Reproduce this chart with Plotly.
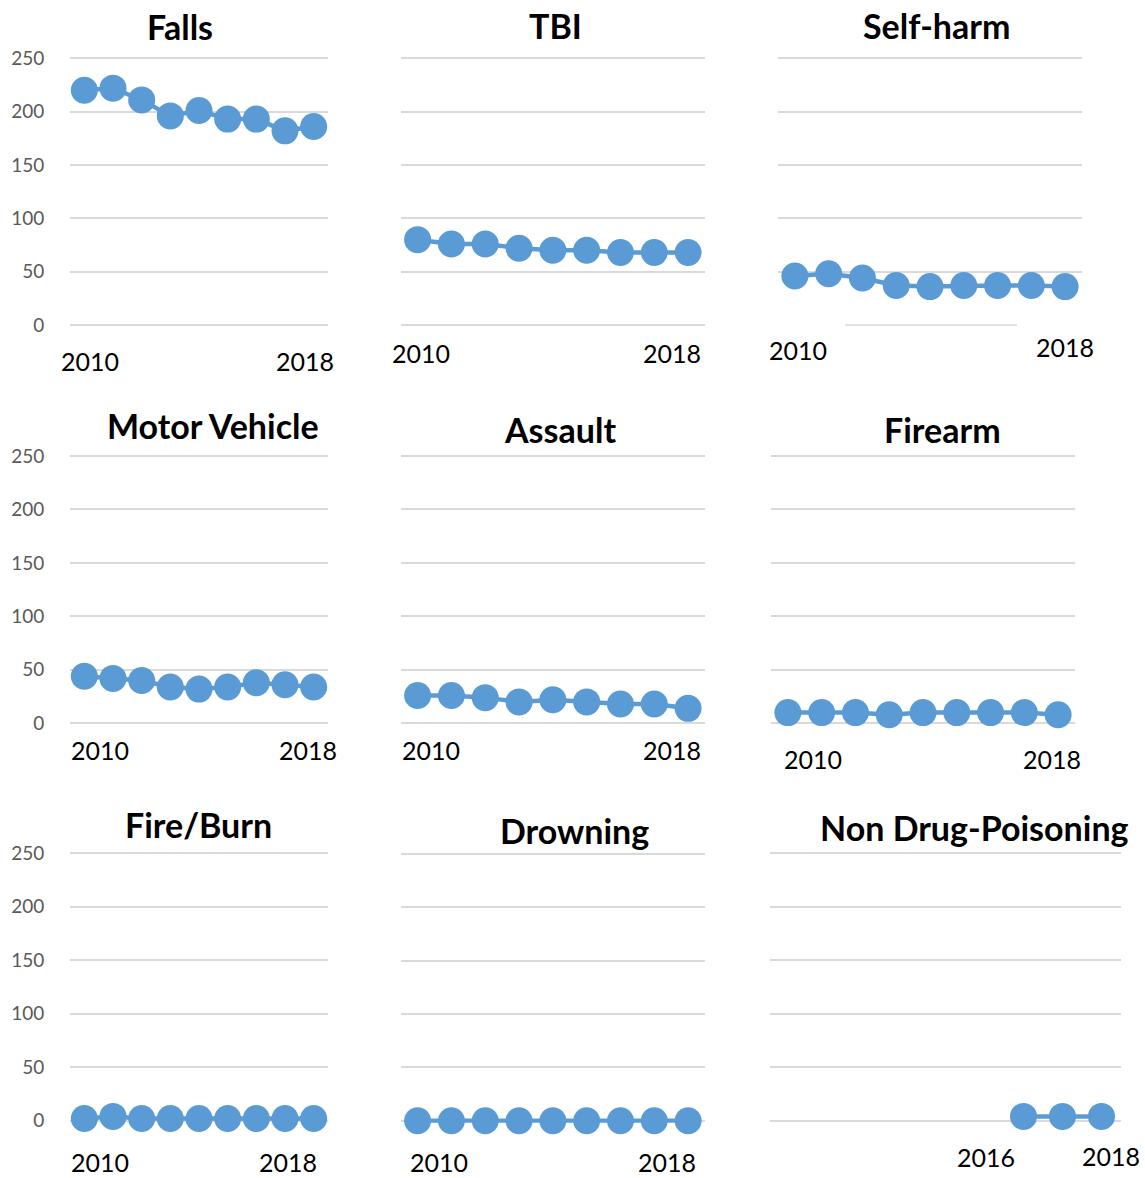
import plotly.graph_objects as go

W, H = 1145, 1178

years = [2010, 2011, 2012, 2013, 2014, 2015, 2016, 2017, 2018]

falls = [220, 222, 211, 196, 201, 193, 193, 182, 186]
tbi = [80, 76, 76, 72, 70, 70, 68, 68, 68]
self_harm = [46, 48, 44, 37, 36, 37, 37, 37, 36]
motor_vehicle = [44, 42, 40, 34, 32, 34, 38, 36, 34]
assault = [26, 26, 24, 20, 22, 20, 18, 18, 14]
firearm = [10, 10, 10, 8, 10, 10, 10, 10, 8]
fire_burn = [2, 4, 2, 2, 2, 2, 2, 2, 2]
drowning = [0, 0, 0, 0, 0, 0, 0, 0, 0]
non_drug_poisoning = [None, None, None, None, None, None, 4, 4, 4]

titles = ["Falls", "TBI", "Self-harm", "Motor Vehicle", "Assault", "Firearm",
          "Fire/Burn", "Drowning", "Non Drug-Poisoning"]
series = [falls, tbi, self_harm, motor_vehicle, assault, firearm,
          fire_burn, drowning, non_drug_poisoning]
year_labels = [["2010", "2018"]] * 8 + [["2016", "2018"]]
y_ticks = [0, 50, 100, 150, 200, 250]

# ---- layout geometry (pixels) ----
# plot area: x_left, x_right, y of 250 gridline, y of 0 gridline
panels_px = [
    (70, 328, 58.3, 325.0),
    (400.7, 705, 58.3, 325.0),
    (778, 1082, 58.3, 325.0),
    (70, 328, 456.0, 723.3),
    (400.7, 705, 456.0, 723.3),
    (771, 1075, 456.0, 723.3),
    (70, 328, 853.3, 1120.7),
    (400.7, 705, 854.0, 1120.7),
    (770, 1121, 853.3, 1120.7),
]
title_pos = [(180, 28), (555.5, 27.5), (936.7, 27.5),
             (212.8, 427.5), (560.3, 430.8), (942.7, 430.8),
             (198.8, 826.2), (574.5, 831.7), (974.7, 829.2)]
label_pos = [
    [(89.7, 361.7), (305, 361.7)],
    [(420.5, 354.2), (672, 354.2)],
    [(798, 350.5), (1064.5, 348.3)],
    [(100.3, 751.3), (308, 751.3)],
    [(431.3, 751.3), (672, 751.3)],
    [(813, 759.5), (1052, 759.5)],
    [(100.3, 1165), (288, 1165)],
    [(439.5, 1162.8), (667, 1162.8)],
    [(985.8, 1158.3), (1111, 1156.7)],
]

BLUE = "#5B9BD5"
GRID = "#D9D9D9"
FONT = "Lato"
PAD = 2  # data units of range padding

def px(x):
    return x / W

def py(y):
    return 1 - y / H

fig = go.Figure()
layout = dict(
    template="none",
    width=W, height=H, margin=dict(l=0, r=0, t=0, b=0, pad=0, autoexpand=False),
    paper_bgcolor="white", plot_bgcolor="white", showlegend=False,
    font=dict(family=FONT),
)
annotations = []
shapes = []

for i, (title, vals) in enumerate(zip(titles, series)):
    n = i + 1
    xa = "x" if n == 1 else f"x{n}"
    ya = "y" if n == 1 else f"y{n}"
    xl, xr, y250, y0 = panels_px[i]
    ppu = (y0 - y250) / 250.0
    top = y250 - PAD * ppu
    bot = y0 + PAD * ppu
    fig.add_trace(go.Scatter(
        x=years, y=vals, xaxis=xa, yaxis=ya, mode="lines+markers",
        line=dict(color=BLUE, width=4.5),
        marker=dict(color=BLUE, size=27, line=dict(width=0)),
        cliponaxis=False, connectgaps=False, hoverinfo="x+y",
    ))
    left_col = (i % 3 == 0)
    tickvals = y_ticks if i != 2 else y_ticks[1:]
    layout[f"xaxis{'' if n == 1 else n}"] = dict(
        domain=[px(xl), px(xr)], range=[2009.5, 2018.5], visible=False,
        anchor=ya, automargin=False,
    )
    layout[f"yaxis{'' if n == 1 else n}"] = dict(
        domain=[py(bot), py(top)], range=[-PAD, 250 + PAD], anchor=xa,
        automargin=False,
        tickmode="array", tickvals=tickvals,
        showgrid=True, gridcolor=GRID, gridwidth=1.6,
        zeroline=False, showline=False,
        showticklabels=left_col,
        ticks="outside" if left_col else "", ticklen=21,
        tickcolor="rgba(0,0,0,0)",
        tickfont=dict(family=FONT, size=19, color="#595959"),
    )
    annotations.append(dict(
        text=f"<b>{title}</b>", x=px(title_pos[i][0]), y=py(title_pos[i][1] - 1.5),
        xref="paper", yref="paper", xanchor="center", yanchor="middle",
        showarrow=False, borderpad=0,
        font=dict(family=FONT, size=34, color="#000000"),
    ))
    for lab, (lx, ly) in zip(year_labels[i], label_pos[i]):
        ly = min(ly - 1, 1162)
        annotations.append(dict(
            text=lab, x=px(lx), y=py(ly), xref="paper", yref="paper",
            xanchor="center", yanchor="middle", showarrow=False, borderpad=0,
            font=dict(family=FONT, size=25, color="#000000"),
        ))

# partial zero gridline in the Self-harm panel
shapes.append(dict(type="line", xref="paper", yref="y3",
                   x0=px(845), x1=px(1017), y0=0, y1=0,
                   line=dict(color=GRID, width=1.6), layer="below"))

layout["annotations"] = annotations
layout["shapes"] = shapes
fig.update_layout(**layout)
fig.write_html("out.html")
